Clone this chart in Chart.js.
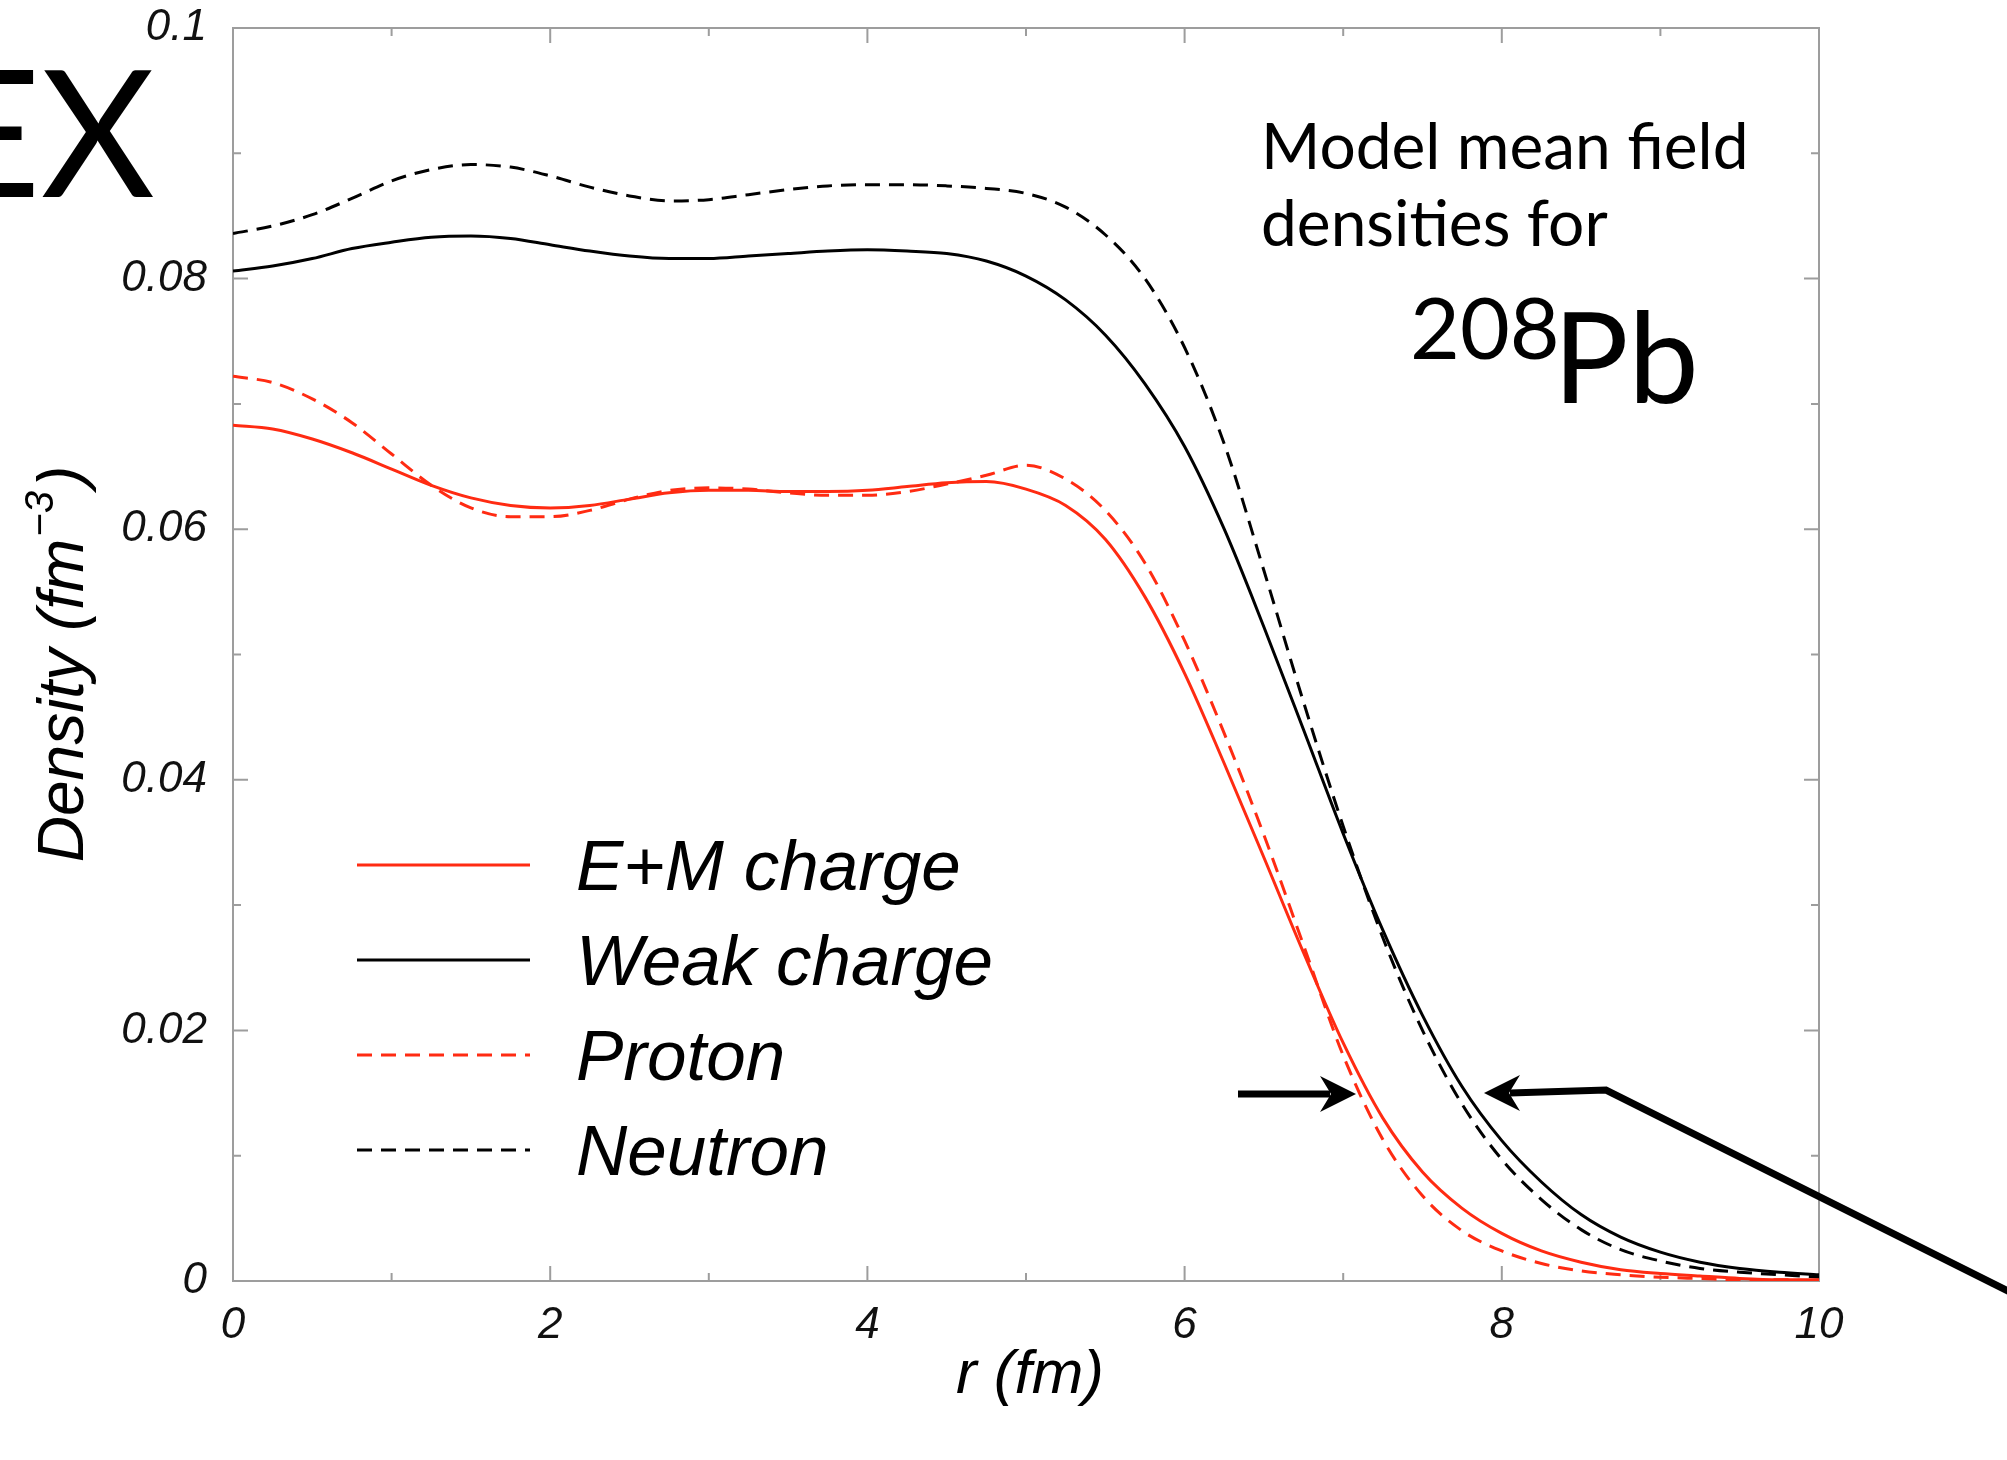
<!DOCTYPE html>
<html>
<head>
<meta charset="utf-8">
<script src="https://cdn.jsdelivr.net/npm/chart.js@4.4.1/dist/chart.umd.min.js"></script>
<style>
  html, body { margin: 0; padding: 0; background: #fff; }
  canvas { display: block; }
</style>
</head>
<body>
<canvas id="chart" width="2007" height="1460"></canvas>
<script>
// Radio r (fm), cada 0.25
const radius = [0, 0.25, 0.5, 0.75, 1, 1.25, 1.5, 1.75, 2, 2.25, 2.5, 2.75, 3, 3.25, 3.5, 3.75,
  4, 4.25, 4.5, 4.75, 5, 5.25, 5.5, 5.75, 6, 6.25, 6.5, 6.75, 7, 7.25, 7.5, 7.75,
  8, 8.25, 8.5, 8.75, 9, 9.25, 9.5, 9.75, 10];

// Densidades (fm^-3)
const emCharge = [0.0683, 0.0680, 0.0672, 0.0661, 0.0648, 0.0635, 0.0625, 0.0619, 0.0617, 0.0619, 0.0624,
  0.0629, 0.0631, 0.0631, 0.0630, 0.0630, 0.0631, 0.0634, 0.0637, 0.0638, 0.0632, 0.0619, 0.0592,
  0.0546, 0.0485, 0.0413, 0.0338, 0.0262, 0.0190, 0.0130, 0.0087, 0.0058, 0.0038, 0.0024, 0.0015,
  0.0009, 0.0006, 0.0004, 0.0002, 0.0001, 0.0001];
const weakCharge = [0.0806, 0.0810, 0.0816, 0.0824, 0.0829, 0.0833, 0.0834, 0.0832, 0.0827, 0.0822, 0.0818,
  0.0816, 0.0816, 0.0818, 0.0820, 0.0822, 0.0823, 0.0822, 0.0820, 0.0814, 0.0802, 0.0783, 0.0755,
  0.0716, 0.0666, 0.0600, 0.0522, 0.0440, 0.0357, 0.0280, 0.0212, 0.0155, 0.0112, 0.0079, 0.0053,
  0.0035, 0.0023, 0.0015, 0.0010, 0.0007, 0.0005];
const proton = [0.0722, 0.0717, 0.0704, 0.0685, 0.0660, 0.0635, 0.0617, 0.0610, 0.0610, 0.0615, 0.0624,
  0.0631, 0.0633, 0.0632, 0.0629, 0.0627, 0.0627, 0.0630, 0.0636, 0.0643, 0.0651, 0.0640, 0.0615,
  0.0573, 0.0511, 0.0437, 0.0356, 0.0268, 0.0180, 0.0113, 0.0068, 0.0040, 0.0024, 0.0014, 0.0008,
  0.0005, 0.0003, 0.0002, 0.0001, 0.0001, 0.0000];
const neutron = [0.0836, 0.0842, 0.0851, 0.0864, 0.0878, 0.0887, 0.0891, 0.0889, 0.0882, 0.0873, 0.0866,
  0.0862, 0.0863, 0.0867, 0.0871, 0.0874, 0.0875, 0.0875, 0.0874, 0.0872, 0.0868, 0.0857, 0.0835,
  0.0800, 0.0745, 0.0668, 0.0567, 0.0462, 0.0363, 0.0274, 0.0200, 0.0141, 0.0097, 0.0065, 0.0041,
  0.0025, 0.0016, 0.0010, 0.0007, 0.0005, 0.0003];

const seriesNames = ["E+M charge", "Weak charge", "Proton", "Neutron"];
const xTicks = [0, 2, 4, 6, 8, 10];
const yTicks = [0, 0.02, 0.04, 0.06, 0.08, 0.1];

const RED = "#ff2b12";
const SANS = '"Liberation Sans", Arial, sans-serif';
const DASH = [15, 9];

const toPoints = arr => radius.map((r, i) => ({ x: r, y: arr[i] }));

// Marco gris con las marcas hacia dentro en los 4 lados
const framePlugin = {
  id: "frame",
  beforeDatasetsDraw(chart) {
    const { ctx, chartArea: a, scales: { x, y } } = chart;
    ctx.save();
    ctx.strokeStyle = "#9d9d9d";
    ctx.lineWidth = 2;
    ctx.strokeRect(a.left, a.top, a.right - a.left, a.bottom - a.top);
    ctx.beginPath();
    for (let i = 0; i <= 10; i++) {
      const px = x.getPixelForValue(i);
      const len = i % 2 === 0 ? 15 : 8;
      ctx.moveTo(px, a.bottom); ctx.lineTo(px, a.bottom - len);
      ctx.moveTo(px, a.top); ctx.lineTo(px, a.top + len);
      const py = y.getPixelForValue(i / 100);
      ctx.moveTo(a.left, py); ctx.lineTo(a.left + len, py);
      ctx.moveTo(a.right, py); ctx.lineTo(a.right - len, py);
    }
    ctx.stroke();
    ctx.restore();
  }
};

// Leyenda dentro del grafico
const legendPlugin = {
  id: "leyenda",
  afterDatasetsDraw(chart) {
    const ctx = chart.ctx;
    ctx.save();
    ctx.font = "italic 71px " + SANS;
    ctx.textBaseline = "alphabetic";
    chart.data.datasets.forEach((ds, i) => {
      const yy = 865 + i * 95;
      ctx.strokeStyle = ds.borderColor;
      ctx.lineWidth = 3;
      ctx.setLineDash(ds.borderDash || []);
      ctx.beginPath();
      ctx.moveTo(357, yy);
      ctx.lineTo(530, yy);
      ctx.stroke();
      ctx.setLineDash([]);
      ctx.fillStyle = "#000";
      ctx.fillText(ds.label, 576, yy + 25);
    });
    ctx.restore();
  }
};

function arrowHead(ctx, tx, ty, dir) {
  ctx.beginPath();
  ctx.moveTo(tx, ty);
  ctx.lineTo(tx - dir * 36, ty - 18);
  ctx.lineTo(tx - dir * 25, ty);
  ctx.lineTo(tx - dir * 36, ty + 18);
  ctx.closePath();
  ctx.fill();
}

// Titulos de ejes, textos y flechas
const notesPlugin = {
  id: "notas",
  afterDraw(chart) {
    const ctx = chart.ctx;
    const a = chart.chartArea;
    ctx.save();
    ctx.fillStyle = "#000";
    ctx.strokeStyle = "#000";

    // eje x
    ctx.font = "italic 62px " + SANS;
    ctx.textAlign = "center";
    ctx.textBaseline = "alphabetic";
    ctx.fillText("r (fm)", (a.left + a.right) / 2 + 4, 1393);

    // eje y con superindice
    ctx.save();
    ctx.translate(83, 664);
    ctx.rotate(-Math.PI / 2);
    ctx.textAlign = "left";
    const big = "italic 64px " + SANS, small = "italic 40px " + SANS;
    ctx.font = big;
    const w1 = ctx.measureText("Density (fm").width;
    const w3 = ctx.measureText(")").width;
    ctx.font = small;
    const w2 = ctx.measureText("\u22123").width;
    let sx = -(w1 + w2 + w3 + 6) / 2;
    ctx.font = big;
    ctx.fillText("Density (fm", sx, 0);
    ctx.font = small;
    ctx.fillText("\u22123", sx + w1 + 2, -30);
    ctx.font = big;
    ctx.fillText(")", sx + w1 + w2 + 6, 0);
    ctx.restore();

    // texto grande cortado
    ctx.font = "176px Lato";
    ctx.textAlign = "right";
    ctx.fillText("EX", 155, 197);

    ctx.textAlign = "left";
    ctx.font = "64px Lato";
    ctx.fillText("Model mean field", 1261, 169);
    ctx.fillText("densities for", 1261, 246);
    ctx.font = "86px Lato";
    ctx.fillText("208", 1410, 359);
    ctx.font = "126px Lato";
    ctx.fillText("Pb", 1553, 403);

    // flechas
    ctx.lineWidth = 7;
    ctx.lineCap = "butt";
    ctx.beginPath();
    ctx.moveTo(1238, 1094);
    ctx.lineTo(1330, 1094);
    ctx.stroke();
    arrowHead(ctx, 1356, 1094, 1);

    ctx.beginPath();
    ctx.moveTo(1510, 1093);
    ctx.lineTo(1606, 1090);
    ctx.lineTo(2030, 1302);
    ctx.stroke();
    arrowHead(ctx, 1484, 1093, -1);
    ctx.restore();
  }
};

const ctx = document.getElementById("chart").getContext("2d");
new Chart(ctx, {
  type: "line",
  data: {
    datasets: [
      { label: seriesNames[0], data: toPoints(emCharge), borderColor: RED, borderWidth: 3 },
      { label: seriesNames[1], data: toPoints(weakCharge), borderColor: "#000", borderWidth: 3 },
      { label: seriesNames[2], data: toPoints(proton), borderColor: RED, borderWidth: 3, borderDash: DASH },
      { label: seriesNames[3], data: toPoints(neutron), borderColor: "#000", borderWidth: 3, borderDash: DASH }
    ]
  },
  options: {
    responsive: false,
    animation: false,
    devicePixelRatio: 1,
    parsing: false,
    elements: {
      point: { radius: 0 },
      line: { cubicInterpolationMode: "monotone", fill: false }
    },
    layout: { padding: { top: 28, right: 188, left: 0, bottom: 0 } },
    plugins: { legend: { display: false }, tooltip: { enabled: false } },
    scales: {
      x: {
        type: "linear", min: 0, max: 10,
        afterBuildTicks: s => { s.ticks = xTicks.map(v => ({ value: v })); },
        afterFit: s => { s.height = 179; s.paddingLeft = 0; s.paddingRight = 0; },
        grid: { display: false, drawTicks: false },
        border: { display: false },
        ticks: {
          padding: 18, maxRotation: 0, autoSkip: false, color: "#111",
          font: { family: SANS, style: "italic", size: 44 },
          callback: v => String(v)
        }
      },
      y: {
        type: "linear", min: 0, max: 0.1,
        afterBuildTicks: s => { s.ticks = yTicks.map(v => ({ value: v })); },
        afterFit: s => { s.width = 233; s.paddingTop = 0; s.paddingBottom = 0; },
        grid: { display: false, drawTicks: false },
        border: { display: false },
        ticks: {
          padding: 26, autoSkip: false, color: "#111",
          font: { family: SANS, style: "italic", size: 44 },
          callback: v => String(+v.toFixed(2))
        }
      }
    }
  },
  plugins: [framePlugin, legendPlugin, notesPlugin]
});
</script>
</body>
</html>
